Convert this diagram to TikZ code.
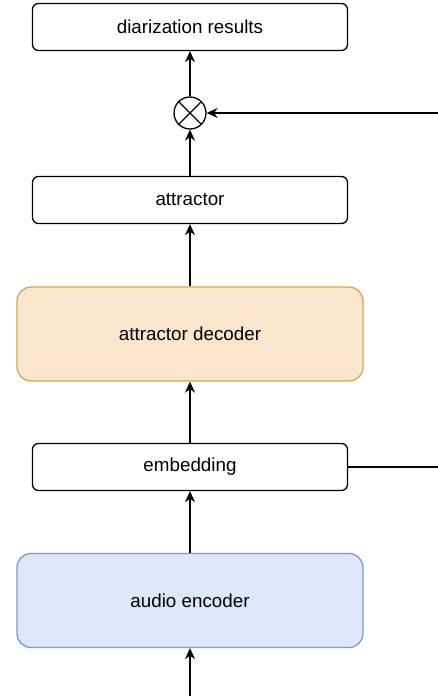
\documentclass[tikz,border=0pt]{standalone}
\usepackage{fontspec}
\setmainfont{Liberation Sans}
\usetikzlibrary{arrows.meta,shapes.misc}
\definecolor{decfill}{HTML}{F9E6CC}
\definecolor{decdraw}{HTML}{D6A84A}
\definecolor{encfill}{HTML}{DCE7F9}
\definecolor{encdraw}{HTML}{7E9ACB}
\tikzset{
  smallbox/.style={draw=black, line width=1.3pt, rounded corners=6pt, minimum width=315pt, minimum height=47pt, inner sep=0pt, font=\fontsize{18.8pt}{21pt}\selectfont},
  bigbox/.style={draw, line width=1.3pt, rounded corners=14pt, minimum width=346pt, minimum height=94pt, inner sep=0pt, font=\fontsize{18.8pt}{21pt}\selectfont},
  conn/.style={line width=1.3pt, -{Stealth[length=11pt,width=10pt,inset=3.5pt]}},
  plain/.style={line width=1.3pt},
}
\begin{document}
\begin{tikzpicture}[x=1pt,y=-1pt]
\useasboundingbox (0,0) rectangle (438,696);
\node[smallbox] (res) at (190,27) {diarization results};
\node[draw, circle, line width=1.3pt, minimum size=32pt, inner sep=0pt] (mul) at (190,113) {};
\draw[line width=1.3pt] (mul.north west) -- (mul.south east) (mul.north east) -- (mul.south west);
\node[smallbox] (att) at (190,200) {attractor};
\node[bigbox, fill=decfill, draw=decdraw] (dec) at (190,334) {attractor decoder};
\node[smallbox] (emb) at (190,467) {embedding};
\node[bigbox, fill=encfill, draw=encdraw] (enc) at (190,600.5) {audio encoder};
\coordinate (inR) at (438,113);
\coordinate (outR) at (438,467);
\coordinate (inB) at (190,696);
\draw[conn] (mul.north) -- (res.south);
\draw[conn] (inR) -- (mul.east);
\draw[conn] (att.north) -- (mul.south);
\draw[conn] (dec.north) -- (att.south);
\draw[conn] (emb.north) -- (dec.south);
\draw[plain] (emb.east) -- (outR);
\draw[conn] (enc.north) -- (emb.south);
\draw[conn] (inB) -- (enc.south);
\end{tikzpicture}
\end{document}
